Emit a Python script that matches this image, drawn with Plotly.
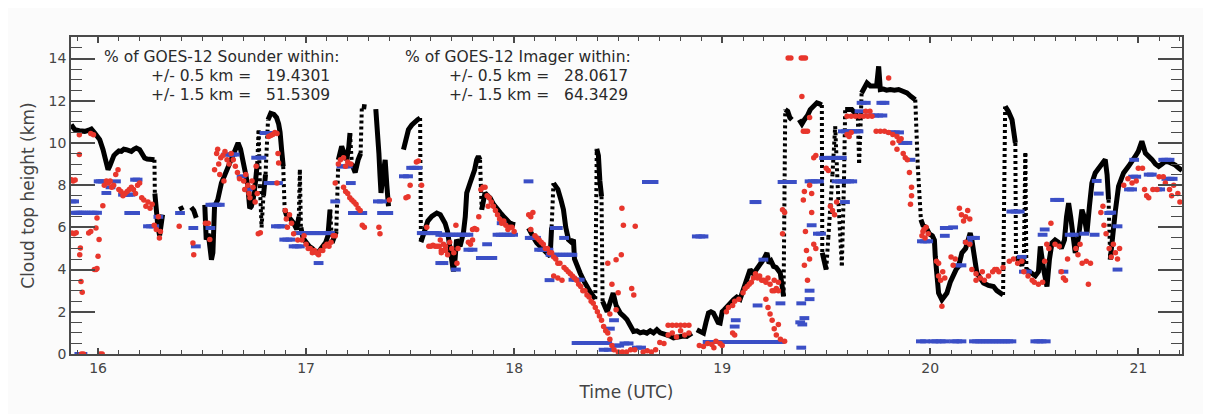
import plotly.graph_objects as go

# ---------------- data ----------------
# black: reference cloud-top heights, (time UTC hours, km); None = gap
black_points = [
    (15.871,10.87),(15.888,10.63),(15.91,10.58),(15.936,10.55),(15.955,10.6),(15.968,10.66),(15.984,10.47),
    (16.0,10.3),(16.008,10.16),(16.024,9.68),(16.036,9.2),(16.048,8.73),(16.056,8.9),(16.064,9.13),(16.076,9.4),
    (16.088,9.52),(16.1,9.62),(16.112,9.6),(16.124,9.7),(16.136,9.68),(16.148,9.62),(16.16,9.6),(16.172,9.7),
    (16.184,9.76),(16.2,9.68),(16.212,9.45),(16.224,9.29),(16.236,9.24),(16.248,9.21),(16.26,9.22),(16.271,9.2),
    (16.273,7.6),(16.28,6.5),(16.288,6.0),(16.296,5.62),(16.304,6.1),(16.31,6.6), None,
    (16.395,7.0),(16.405,6.8), None,
    (16.448,6.95),(16.46,6.8),(16.472,6.45), None,
    (16.513,7.07),(16.515,6.0),(16.52,5.42),(16.53,5.7),(16.538,5.0),(16.545,4.47),(16.552,4.8),(16.556,5.8),
    (16.56,7.0),(16.575,7.3),(16.593,8.1),(16.61,8.5),(16.625,8.89),(16.64,9.3),(16.657,9.68),(16.673,10.0),
    (16.685,9.7),(16.697,9.2),(16.71,8.5),(16.72,7.94),(16.729,6.9),(16.737,7.0),(16.745,7.3),(16.755,8.0),
    (16.765,9.0),(16.772,10.6),(16.778,8.0),(16.786,6.0),(16.795,7.5),(16.805,8.5),(16.817,11.1),(16.83,11.4),
    (16.845,11.35),(16.858,11.2),(16.868,10.9),(16.875,10.5),(16.883,9.6),(16.89,8.9),(16.897,6.84),(16.905,6.6),
    (16.915,6.52),(16.928,6.35),(16.94,6.2),(16.955,5.9),(16.965,6.5),(16.97,8.73),(16.975,6.0),(16.985,5.5),
    (17.0,5.3),(17.015,5.1),(17.03,5.0),(17.045,4.85),(17.051,4.79),(17.065,4.9),(17.08,5.1),(17.095,5.3),
    (17.105,5.6),(17.115,6.84),(17.125,5.27),(17.135,5.6),(17.145,5.8),(17.155,9.2),(17.171,9.84),(17.183,9.5),
    (17.195,9.2),(17.205,9.8),(17.211,10.47),(17.22,9.0),(17.236,8.6),(17.25,9.2),(17.262,9.5),(17.268,11.73),
    (17.29,11.7), None,
    (17.335,11.6),(17.345,10.5),(17.35,9.5),(17.355,8.5),(17.36,7.63),(17.37,8.5),(17.38,9.2),(17.388,8.0),
    (17.396,7.0), None,
    (17.468,9.68),(17.48,10.2),(17.492,10.63),(17.508,10.85),(17.524,11.02),(17.536,11.1),(17.548,11.18),
    (17.552,5.3),(17.57,5.8),(17.585,6.3),(17.604,6.52),(17.628,6.68),(17.645,6.6),(17.668,6.2),(17.68,5.8),
    (17.69,5.0),(17.7,4.3),(17.708,3.91),(17.716,4.5),(17.723,5.42),(17.74,5.1),(17.756,5.73),(17.765,6.5),
    (17.772,7.63),(17.788,8.1),(17.8,8.4),(17.81,8.73),(17.82,9.2),(17.828,9.37),(17.836,9.2),(17.844,6.84),
    (17.86,7.63),(17.872,7.5),(17.885,7.39),(17.9,7.1),(17.917,6.84),(17.933,6.7),(17.949,6.52),(17.965,6.35),
    (17.98,6.2),(17.993,6.15),(18.005,6.13), None,
    (18.069,5.97),(18.085,5.6),(18.1,5.4),(18.109,5.26),(18.125,5.1),(18.14,4.94),(18.155,4.8),(18.165,4.7),
    (18.173,4.63),(18.18,6.0),(18.189,8.1),(18.2,7.9),(18.21,7.8),(18.225,7.3),(18.237,6.84),(18.248,6.0),
    (18.261,5.42),(18.275,5.3),(18.285,5.42),(18.29,4.5),(18.3,4.2),(18.317,3.84),(18.333,3.5),(18.349,3.2),
    (18.365,2.95),(18.381,2.73),(18.39,2.6),(18.397,9.72),(18.405,9.4),(18.412,8.2),(18.42,7.47),(18.425,2.5),
    (18.435,2.2),(18.447,2.0),(18.46,2.4),(18.476,2.89),(18.49,2.3),(18.51,1.94),(18.526,1.8),(18.542,1.63),
    (18.558,1.35),(18.574,1.07),(18.59,1.1),(18.606,1.0),(18.622,1.05),(18.638,0.99),(18.654,1.1),(18.67,1.0),
    (18.686,1.15),(18.702,1.0),(18.718,0.95),(18.734,0.91),(18.75,0.85),(18.766,0.76),(18.782,0.8),(18.798,0.78),
    (18.814,0.85),(18.83,0.83),(18.842,0.9),(18.854,0.99), None,
    (18.878,1.15),(18.894,1.05),(18.91,0.99),(18.922,1.5),(18.934,1.94),(18.946,2.0),(18.958,1.94),(18.97,1.7),
    (18.98,1.5),(18.99,1.47),(19.0,2.0),(19.01,2.1),(19.022,2.26),(19.038,2.4),(19.054,2.57),(19.07,2.7),
    (19.086,2.6),(19.1,3.0),(19.11,3.3),(19.118,3.52),(19.134,4.0),(19.15,3.8),(19.165,4.0),(19.183,4.31),
    (19.2,4.5),(19.215,4.79),(19.225,4.3),(19.235,4.4),(19.247,4.15),(19.26,4.1),(19.27,3.9),(19.279,3.84),
    (19.287,3.3),(19.295,2.73),(19.303,11.58),(19.315,11.5),(19.325,11.2),(19.335,11.1), None,
    (19.37,11.1),(19.383,10.9),(19.395,11.1),(19.41,11.3),(19.423,11.58),(19.44,11.8),(19.455,11.9),
    (19.468,11.85),(19.479,11.8),(19.481,4.8),(19.49,4.3),(19.5,4.0),(19.51,5.5),(19.52,7.0),(19.53,8.5),
    (19.543,10.79),(19.555,8.0),(19.565,6.0),(19.575,4.2),(19.585,8.0),(19.591,11.58),(19.607,11.6),
    (19.623,11.58),(19.64,11.4),(19.652,11.2),(19.658,9.05),(19.664,10.5),(19.67,12.37),(19.683,12.6),
    (19.696,12.84),(19.712,12.7),(19.728,12.68),(19.742,12.7),(19.752,13.63),(19.76,12.53),(19.775,12.55),
    (19.79,12.5),(19.808,12.53),(19.828,12.5),(19.848,12.53),(19.868,12.45),(19.888,12.37),(19.908,12.2),
    (19.928,12.05),(19.94,8.9),(19.955,6.37),(19.965,6.1),(19.98,6.0),(19.995,5.7),(20.01,5.6),(20.02,5.4),
    (20.024,4.63),(20.032,3.5),(20.04,2.89),(20.056,2.57),(20.068,2.7),(20.08,2.89),(20.096,3.4),(20.112,3.84),
    (20.124,4.0),(20.136,4.15),(20.152,4.79),(20.17,5.0),(20.182,5.5),(20.192,5.73),(20.2,5.4),(20.212,4.5),
    (20.224,3.84),(20.24,3.6),(20.256,3.36),(20.28,3.25),(20.304,3.2),(20.32,3.0),(20.337,2.89),(20.35,2.8),
    (20.36,11.73),(20.375,11.5),(20.393,11.1),(20.409,10.0),(20.412,4.63),(20.425,4.4),(20.44,4.2),(20.45,4.5),
    (20.457,9.52),(20.462,4.0),(20.475,3.9),(20.49,3.8),(20.505,3.7),(20.52,3.9),(20.529,5.1),(20.545,4.0),
    (20.561,3.2),(20.573,4.5),(20.585,5.26),(20.6,5.4),(20.615,5.3),(20.63,5.0),(20.645,5.4),(20.655,6.5),
    (20.665,7.15),(20.675,6.5),(20.685,5.5),(20.697,4.79),(20.712,5.5),(20.729,6.84),(20.74,6.5),(20.753,5.73),
    (20.765,7.0),(20.777,8.1),(20.793,8.58),(20.81,8.8),(20.825,9.05),(20.841,9.21),(20.85,8.5),(20.857,7.31),
    (20.865,4.47),(20.875,5.5),(20.89,6.8),(20.905,7.94),(20.929,8.58),(20.953,8.89),(20.97,9.1),(20.986,9.37),
    (21.0,9.6),(21.017,10.08),(21.034,9.52),(21.05,9.4),(21.066,9.21),(21.082,9.0),(21.098,8.89),(21.114,9.0),
    (21.13,9.13),(21.146,9.1),(21.162,9.05),(21.178,8.95),(21.194,8.81),(21.21,8.7),
]

# red: GOES-12 Sounder cloud-top heights
red_points = [
    (15.872,8.26),(15.88,8.2),(15.89,8.25),(15.875,5.73),(15.885,5.7),(15.895,5.75),(15.91,10.39),(15.91,9.45),
    (15.915,5.02),(15.912,4.7),(15.918,3.44),(15.924,2.92),(15.92,0.0),(15.93,0.0),(15.955,5.73),(15.965,5.8),
    (15.965,10.45),(15.978,10.39),(15.982,4.0),(15.99,4.0),(15.995,4.05),(15.99,5.97),(15.995,6.44),(16.0,4.63),
    (16.005,5.42),(16.01,0.0),(16.02,0.0),(16.023,7.03),(16.03,8.0),(16.04,8.2),(16.05,8.1),(16.058,8.2),
    (16.066,7.9),(16.075,8.0),(16.085,8.5),(16.096,8.73),(16.1,7.8),(16.11,7.7),(16.12,7.5),(16.13,7.6),
    (16.14,7.7),(16.15,7.8),(16.16,7.9),(16.17,7.8),(16.18,7.6),(16.19,8.0),(16.2,8.1),(16.21,7.4),(16.22,7.3),
    (16.23,7.0),(16.24,7.2),(16.25,6.9),(16.26,7.1),(16.27,6.1),(16.28,5.9),(16.29,6.5),(16.3,5.8),(16.295,5.5),
    (16.39,6.05),(16.456,5.26),(16.46,4.7),(16.516,6.2),(16.53,6.2),(16.537,5.42),(16.56,8.73),(16.57,9.5),
    (16.575,9.7),(16.58,9.0),(16.585,8.5),(16.59,9.3),(16.6,9.4),(16.605,8.2),(16.61,9.6),(16.62,9.2),
    (16.63,9.0),(16.64,9.5),(16.65,9.2),(16.66,8.9),(16.67,8.6),(16.68,8.3),(16.7,8.2),(16.705,7.8),(16.71,8.5),
    (16.72,8.0),(16.725,7.6),(16.73,7.4),(16.74,8.2),(16.745,7.9),
    (16.76,8.9),(16.765,7.6),(16.755,7.2),(16.77,5.7),(16.78,5.75),(16.82,10.3),(16.83,10.35),(16.84,10.4),
    (16.85,10.5),(16.86,10.45),(16.865,9.5),(16.868,9.05),(16.86,8.1),(16.9,6.8),(16.905,6.4),(16.91,6.0),
    (16.92,6.6),(16.93,6.2),(16.94,5.7),(16.96,5.4),(16.98,5.4),(16.99,5.6),(17.0,5.2),(17.01,5.0),(17.02,5.0),
    (17.03,4.8),(17.04,4.9),(17.05,4.8),(17.06,4.7),(17.07,4.9),(17.08,4.9),(17.09,5.1),(17.1,5.2),(17.11,5.1),
    (17.12,5.3),(17.13,5.6),(17.14,5.6),(17.14,8.1),(17.155,9.0),(17.165,9.2),(17.18,9.3),(17.19,8.9),(17.2,9.1),
    (17.215,9.0),(17.18,7.9),(17.19,7.7),(17.2,7.6),(17.21,7.4),(17.22,7.3),(17.23,7.2),(17.24,7.1),(17.25,6.9),
    (17.26,6.8),(17.27,6.1),(17.28,6.0),(17.35,6.0),(17.355,5.7),(17.4,7.3),(17.48,7.4),(17.49,7.45),(17.5,8.0),
    (17.53,9.1),(17.54,9.15),(17.555,8.0),(17.58,6.0),(17.59,5.1),(17.6,5.1),(17.61,5.15),(17.62,5.1),
    (17.63,5.1),(17.64,5.1),(17.65,4.9),(17.66,4.9),(17.67,4.9),
    (17.645,5.4),(17.65,4.8),(17.66,5.2),(17.67,5.1),(17.68,4.7),(17.69,5.3),(17.7,5.0),(17.71,4.8),(17.72,6.1),
    (17.725,4.3),(17.73,5.0),(17.78,5.3),(17.79,5.2),(17.8,5.4),(17.8,5.9),(17.81,5.95),(17.82,5.9),(17.83,6.5),
    (17.84,7.8),(17.85,7.9),(17.86,7.9),(17.87,7.5),(17.875,7.0),(17.88,7.4),(17.89,7.2),(17.9,7.0),(17.91,6.8),
    (17.92,6.6),(17.93,6.4),(17.94,6.2),(17.95,6.3),(17.96,6.1),(17.97,5.9),(17.98,6.0),(17.99,6.0),(18.0,5.8),
    (18.07,6.6),(18.08,6.5),(18.09,6.7),(18.08,5.9),(18.1,5.6),(18.11,5.5),(18.12,5.4),(18.13,5.3),(18.14,5.2),
    (18.15,5.0),(18.16,5.0),(18.17,4.8),(18.18,4.8),(18.19,4.6),(18.19,3.7),(18.2,4.5),(18.21,4.3),(18.21,3.6),
    (18.22,4.3),(18.23,3.5),(18.24,4.1),(18.25,4.0),(18.26,3.9),(18.27,3.8),(18.28,3.7),(18.29,3.6),(18.3,3.5),
    (18.31,3.3),(18.32,3.2),(18.33,3.0),(18.34,3.0),(18.35,2.8),(18.36,2.7),(18.37,2.5),(18.38,2.4),(18.39,2.2),
    (18.4,2.0),(18.41,1.8),(18.42,1.6),(18.43,1.3),(18.44,1.1),(18.45,1.0),(18.46,0.7),(18.47,0.4),(18.48,0.2),
    (18.45,4.3),(18.47,3.3),(18.5,2.9),(18.49,2.1),(18.46,1.9),(18.49,4.47),(18.5,0.1),(18.52,0.1),(18.515,4.7),
    (18.525,6.1),(18.518,6.9),(18.54,0.1),(18.56,0.2),(18.565,3.1),(18.575,2.8),(18.582,6.05),(18.58,0.2),
    (18.74,1.36),(18.76,1.36),(18.78,1.36),(18.8,1.36),(18.82,1.36),(18.84,1.36),(18.74,0.9),(18.76,1.0),
    (18.78,0.8),(18.8,1.1),(18.82,0.9),(18.84,1.0),(18.72,0.5),(18.7,0.55),(18.68,0.2),(18.62,0.1),(18.64,0.15),
    (18.66,0.1),(18.89,0.4),(18.91,0.35),(18.93,0.5),(18.95,0.45),(18.97,0.6),(18.99,0.5),(19.0,0.4),(18.96,0.3),
    (19.02,2.0),(19.03,2.2),(19.05,2.3),(19.06,2.5),(19.08,2.6),(19.1,2.9),(19.11,3.1),(19.12,3.2),(19.13,3.3),
    (19.14,3.4),(19.15,3.6),(19.16,3.8),(19.17,3.6),(19.18,3.7),(19.19,3.5),(19.2,3.5),(19.21,3.4),(19.22,3.6),
    (19.23,3.3),(19.24,3.0),(19.25,3.0),(19.26,3.1),(19.27,3.0),(19.25,3.5),(19.27,3.4),(19.05,1.0),(19.06,0.9),
    (19.21,2.6),(19.22,2.2),(19.23,1.9),(19.24,1.6),(19.25,1.2),(19.26,0.9),(19.27,1.4),(19.28,0.7),(19.3,0.6),
    (19.29,6.84),(19.29,5.7),(19.3,6.7),
    (19.317,14.03),(19.33,14.03),(19.38,14.03),(19.39,14.03),(19.4,14.03),(19.383,12.2),(19.39,10.55),
    (19.4,10.55),(19.41,10.55),(19.42,11.2),(19.395,7.7),(19.39,7.3),(19.4,5.8),(19.405,4.9),(19.395,4.2),
    (19.41,3.5),(19.42,8.0),(19.43,7.6),(19.44,9.3),(19.45,9.4),(19.43,6.7),(19.44,5.2),(19.45,5.0),(19.42,4.5),
    (19.5,8.8),(19.51,8.7),(19.52,7.0),(19.53,6.8),(19.54,6.6),(19.55,7.2),(19.6,11.26),(19.62,11.26),
    (19.64,11.26),(19.66,11.26),(19.68,11.26),(19.7,11.26),(19.72,11.26),(19.69,11.5),(19.71,11.5),(19.6,10.4),
    (19.61,10.3),(19.62,10.5),(19.74,10.55),(19.76,10.55),(19.78,10.55),(19.8,10.5),(19.82,10.4),(19.84,10.3),
    (19.85,10.1),(19.86,10.2),(19.87,9.5),(19.88,9.3),(19.89,9.2),(19.9,8.6),(19.91,7.9),(19.91,7.5),(19.905,7.1),
    (19.8,13.08),(19.82,10.0),(19.84,9.7),
    (19.96,5.6),(19.97,5.9),(19.975,5.5),(19.98,6.0),(19.99,5.7),(19.965,5.8),(20.03,4.4),(20.04,4.3),
    (20.04,3.7),(20.05,3.5),(20.06,3.9),(20.07,3.6),(20.056,2.26),(20.1,4.6),(20.11,4.2),(20.12,4.5),(20.14,6.9),
    (20.15,6.6),(20.16,6.3),(20.17,6.5),(20.18,6.8),(20.19,6.4),(20.17,5.3),(20.19,5.2),(20.2,4.0),(20.22,3.8),
    (20.24,3.6),(20.26,3.5),(20.28,3.7),(20.3,3.9),(20.32,4.0),(20.22,3.5),(20.25,3.9),
    (20.31,4.0),(20.33,3.9),(20.35,4.1),(20.38,4.4),(20.4,4.5),(20.42,4.3),(20.44,4.4),(20.45,3.9),(20.47,3.7),
    (20.49,3.5),(20.5,3.4),(20.52,3.3),(20.54,3.4),(20.55,4.4),(20.56,5.2),(20.58,6.2),(20.57,5.0),(20.6,5.2),
    (20.62,5.1),(20.63,3.9),(20.64,3.6),(20.65,3.5),(20.66,4.5),(20.7,5.0),(20.71,4.7),(20.72,5.2),(20.73,4.3),
    (20.75,4.4),(20.76,3.3),(20.77,4.3),(20.82,6.7),(20.83,7.0),(20.835,6.1),(20.845,5.7),(20.86,5.0),
    (20.87,4.6),(20.88,5.2),(20.89,4.8),(20.9,4.5),(20.91,5.0),(20.93,8.0),(20.95,8.3),(20.97,8.1),(20.99,8.2),
    (21.0,8.8),(21.02,8.8),(21.03,7.8),(21.04,7.5),(21.05,7.4),(21.07,7.8),(21.09,7.8),(21.1,8.4),(21.12,8.4),
    (21.13,8.1),(21.15,7.8),(21.16,7.5),(21.17,8.0),(21.19,7.6),(21.2,7.2),
]

# blue: GOES-12 Imager cloud-top heights
blue_points = [
    (15.872,7.23),(15.885,7.23),(15.89,6.69),(15.9,6.69),(15.91,6.69),(15.92,6.69),(15.93,6.69),(15.94,6.69),
    (15.96,6.69),(15.97,6.69),(15.98,6.69),(15.995,6.69),(15.91,0.0),(15.925,0.0),(16.003,8.18),(16.013,8.18),
    (16.024,8.18),(16.04,7.63),(16.06,7.9),(16.086,8.18),(16.12,7.55),(16.13,7.55),(16.145,7.55),(16.155,7.55),
    (16.15,6.68),(16.165,6.68),(16.178,6.68),(16.178,8.26),(16.19,8.26),(16.24,6.05),(16.255,6.05),(16.27,6.05),
    (16.29,6.5),(16.394,6.68),(16.458,5.97),(16.47,5.1),(16.54,5.97),(16.54,7.07),(16.555,7.07),(16.57,7.07),
    (16.585,7.07),(16.616,9.45),(16.63,9.45),(16.645,9.45),(16.657,9.45),(16.69,8.42),(16.72,7.8),(16.76,9.3),
    (16.785,9.3),(16.8,10.47),(16.815,10.47),(16.83,10.47),(16.82,8.1),(16.835,8.1),(16.85,8.1),(16.865,8.1),
    (16.855,6.05),(16.87,6.05),(16.885,6.05),(16.895,5.42),(16.91,5.42),(16.925,5.42),(16.94,5.1),(16.955,5.1),
    (16.97,5.1),(16.965,5.73),(16.98,5.73),(16.995,5.73),(17.01,5.73),(17.025,5.73),(17.04,5.73),(17.055,5.73),
    (17.07,5.73),(17.085,5.73),(17.1,5.73),(17.115,5.73),(17.06,4.31),(17.14,7.23),(17.17,8.89),(17.185,8.89),
    (17.2,8.89),(17.215,8.1),(17.225,6.68),(17.24,6.68),(17.255,6.68),(17.27,6.68),(17.345,7.23),(17.365,7.23),
    (17.365,6.68),(17.38,6.68),(17.395,6.68),(17.47,8.42),(17.49,8.42),(17.505,8.82),(17.52,8.82),(17.535,8.82),
    (17.556,5.73),(17.57,5.73),(17.585,5.73),(17.6,5.73),(17.615,5.73),(17.63,5.73),(17.645,5.65),(17.66,5.65),
    (17.675,5.65),(17.69,5.65),(17.705,5.65),(17.72,5.65),(17.735,5.65),(17.75,5.65),(17.765,5.65),(17.78,5.65),
    (17.645,4.31),(17.66,4.31),(17.72,4.0),(17.78,4.94),(17.8,4.94),(17.84,4.55),(17.86,4.55),(17.88,4.55),
    (17.895,4.55),(17.87,5.2),(17.92,5.65),(17.935,5.65),(17.95,5.65),(17.965,5.65),(17.98,5.65),(17.995,5.65),
    (17.94,6.2),(18.069,8.18),(18.075,5.5),(18.09,5.5),(18.105,5.5),(18.12,4.94),(18.135,4.94),(18.15,4.94),
    (18.165,4.94),(18.175,4.7),(18.19,4.7),(18.205,4.7),(18.22,4.7),(18.235,4.7),(18.25,4.7),(18.265,4.7),
    (18.28,4.7),(18.195,5.97),(18.21,5.97),(18.24,5.5),(18.17,3.5),(18.285,3.52),(18.3,3.52),(18.315,3.52),
    (18.3,0.52),(18.315,0.52),(18.33,0.52),(18.345,0.52),(18.36,0.52),(18.375,0.52),(18.39,0.52),(18.405,0.52),
    (18.42,0.52),(18.435,0.52),(18.447,0.52),(18.46,1.2),(18.48,1.6),(18.49,0.4),(18.505,0.4),(18.43,0.2),
    (18.455,0.2),(18.638,8.15),(18.655,8.15),(18.67,8.15),(18.53,0.5),(18.55,0.5),(18.59,0.3),(18.61,0.3),
    (18.878,5.57),(18.895,5.57),(18.91,5.57),(18.93,0.57),(18.945,0.57),(18.96,0.57),(18.975,0.57),(18.99,0.57),
    (19.005,0.57),(19.02,0.57),(19.035,0.57),(19.05,0.57),(19.065,0.57),(19.08,0.57),(19.1,0.57),(19.115,0.57),
    (19.13,0.57),(19.15,0.57),(19.165,0.57),(19.18,0.57),(19.2,0.57),(19.215,0.57),(19.23,0.57),(19.245,0.57),
    (19.26,0.57),(19.275,0.57),(19.06,1.3),(19.065,1.6),(19.155,7.2),(19.165,7.2),(19.198,4.47),(19.17,2.3),
    (19.28,2.4),(19.29,8.15),(19.305,8.15),(19.32,8.15),(19.335,8.15),(19.375,1.5),(19.385,1.4),(19.395,1.7),
    (19.38,2.4),(19.38,0.3),(19.42,8.18),(19.435,8.18),(19.45,8.18),(19.465,8.18),(19.42,2.6),(19.42,3.0),
    (19.43,6.1),(19.46,5.7),(19.475,5.7),(19.49,9.29),(19.505,9.29),(19.52,9.29),(19.535,9.29),(19.55,9.29),
    (19.565,9.29),(19.575,9.29),(19.55,8.18),(19.565,8.18),(19.58,8.18),(19.595,8.18),(19.61,8.18),(19.625,8.18),
    (19.59,7.2),(19.58,10.55),(19.595,10.55),(19.61,10.55),(19.625,10.55),(19.64,10.55),(19.655,10.55),
    (19.67,11.9),(19.69,11.9),(19.765,11.9),(19.78,11.9),(19.71,11.3),(19.73,11.3),(19.75,11.3),(19.77,11.3),
    (19.66,11.5),(19.81,10.5),(19.83,10.5),(19.85,10.5),(19.87,10.0),(19.89,10.0),(19.905,9.2),(19.96,5.34),
    (19.975,5.34),(19.99,5.34),(20.07,5.97),(20.085,5.97),(20.11,6.0),(20.07,5.6),(20.18,5.3),(20.2,5.5),
    (20.215,5.5),(20.13,4.2),(20.15,4.2),
    (19.955,0.6),(19.975,0.6),(20.015,0.6),(20.03,0.6),(20.05,0.6),(20.07,0.6),(20.115,0.6),(20.13,0.6),
    (20.15,0.6),(20.21,0.6),(20.225,0.6),(20.24,0.6),(20.255,0.6),(20.27,0.6),(20.285,0.6),(20.3,0.6),
    (20.315,0.6),(20.33,0.6),(20.345,0.6),(20.36,0.6),(20.375,0.6),(20.39,0.6),(20.505,0.6),(20.52,0.6),
    (20.535,0.6),(20.555,0.6),
    (20.39,6.75),(20.41,6.75),(20.43,6.75),(20.44,4.6),(20.45,3.9),(20.465,3.9),(20.54,5.65),(20.55,5.9),
    (20.6,7.3),(20.62,7.3),(20.64,3.9),(20.67,5.65),(20.69,5.65),(20.74,5.7),(20.79,5.65),(20.8,8.2),(20.81,7.6),
    (20.86,6.68),(20.87,6.7),(20.9,4.0),(20.9,6.05),(20.955,7.8),(20.97,7.8),(20.975,8.4),(20.99,8.4),(20.98,9.2),
    (21.05,8.5),(21.065,8.5),(21.09,7.8),(21.105,7.8),(21.12,9.2),(21.135,9.2),(21.15,9.2),(21.135,8.3),
    (21.15,8.3),(21.165,8.3),
]

x_ticks = [16, 17, 18, 19, 20, 21]
y_ticks = [0, 2, 4, 6, 8, 10, 12, 14]

sounder_label = "% of GOES-12 Sounder within:"
sounder_lines = ["+/- 0.5 km =\u00a0\u00a0 19.4301", "+/- 1.5 km =\u00a0\u00a0 51.5309"]
imager_label = "% of GOES-12 Imager within:"
imager_lines = ["+/- 0.5 km =\u00a0\u00a0 28.0617", "+/- 1.5 km =\u00a0\u00a0 64.3429"]

# ---------------- build traces ----------------
JUMP = 1.4
solid_x, solid_y, dot_x, dot_y = [], [], [], []
prev = None
for p in black_points:
    if p is None:
        solid_x.append(None); solid_y.append(None); prev = None
        continue
    t, h = p
    if prev is not None and abs(h - prev[1]) > JUMP:
        solid_x.append(None); solid_y.append(None)
        dot_x += [prev[0], t, None]; dot_y += [prev[1], h, None]
    solid_x.append(t); solid_y.append(h)
    prev = p

BLACK = "#000000"
RED = "#e8362c"
BLUE = "#3b4fc6"
AXC = "#4a4a4a"
FONT = "DejaVu Sans"

fig = go.Figure()
fig.add_trace(go.Scatter(x=solid_x, y=solid_y, mode="lines",
                         line=dict(color=BLACK, width=5), connectgaps=False, hoverinfo="skip"))
fig.add_trace(go.Scatter(x=dot_x, y=dot_y, mode="lines",
                         line=dict(color=BLACK, width=4, dash="3px,3px"), hoverinfo="skip"))
fig.add_trace(go.Scatter(x=[p[0] for p in blue_points], y=[p[1] for p in blue_points], mode="markers",
                         marker=dict(symbol="line-ew", size=7, color=BLUE,
                                     line=dict(color=BLUE, width=4))))
fig.add_trace(go.Scatter(x=[p[0] for p in red_points], y=[p[1] for p in red_points], mode="markers",
                         marker=dict(symbol="circle", size=5.5, color=RED, line=dict(width=0))))

# the page body has an 8px margin; size the figure so the plot box lands where the reference has it
OFF = 8
L, R, T, B = 63, 29, 29, 60
W, H = 1203, 406
pw, ph = W - L - R, H - T - B


def px_x(px):
    return (px - OFF - L) / pw


def px_y(py):
    return (H - B - (py - OFF)) / ph


annos = []
txtfont = dict(family=FONT, size=15.5, color="#2a2a2a")
annos.append(dict(text=sounder_label, x=px_x(103), y=px_y(57)))
annos.append(dict(text=sounder_lines[0], x=px_x(150), y=px_y(76)))
annos.append(dict(text=sounder_lines[1], x=px_x(150), y=px_y(95)))
annos.append(dict(text=imager_label, x=px_x(404), y=px_y(57)))
annos.append(dict(text=imager_lines[0], x=px_x(448), y=px_y(76)))
annos.append(dict(text=imager_lines[1], x=px_x(448), y=px_y(95)))
for a in annos:
    a.update(xref="paper", yref="paper", xanchor="left", yanchor="middle",
             showarrow=False, font=txtfont, borderpad=0)

fig.update_layout(
    width=W, height=H, showlegend=False,
    margin=dict(l=L, r=R, t=T, b=B, autoexpand=False),
    paper_bgcolor="#fbfbfb", plot_bgcolor="#fcfcfc",
    font=dict(family=FONT, size=14, color="#444"),
    annotations=annos,
)
fig.update_xaxes(
    range=[15.87, 21.21], tickmode="linear", tick0=x_ticks[0], dtick=x_ticks[1] - x_ticks[0],
    ticks="inside", ticklen=6, tickwidth=1.5, tickcolor=AXC,
    minor=dict(dtick=0.1, ticks="inside", ticklen=4, tickwidth=1.2, tickcolor=AXC),
    showline=True, linecolor=AXC, linewidth=1.5, mirror="ticks",
    showgrid=False, zeroline=False,
    title=dict(text="Time (UTC)", standoff=12),
)
fig.update_yaxes(
    range=[0, 15.02], tickmode="linear", tick0=y_ticks[0], dtick=y_ticks[1] - y_ticks[0],
    ticks="inside", ticklen=24, tickwidth=1.5, tickcolor=AXC,
    minor=dict(dtick=0.5, ticks="inside", ticklen=11, tickwidth=1.2, tickcolor=AXC),
    showline=True, linecolor=AXC, linewidth=1.5, mirror="ticks",
    showgrid=False, zeroline=False,
    title=dict(text="Cloud top height (km)", standoff=10),
)

fig.write_html("out.html")
